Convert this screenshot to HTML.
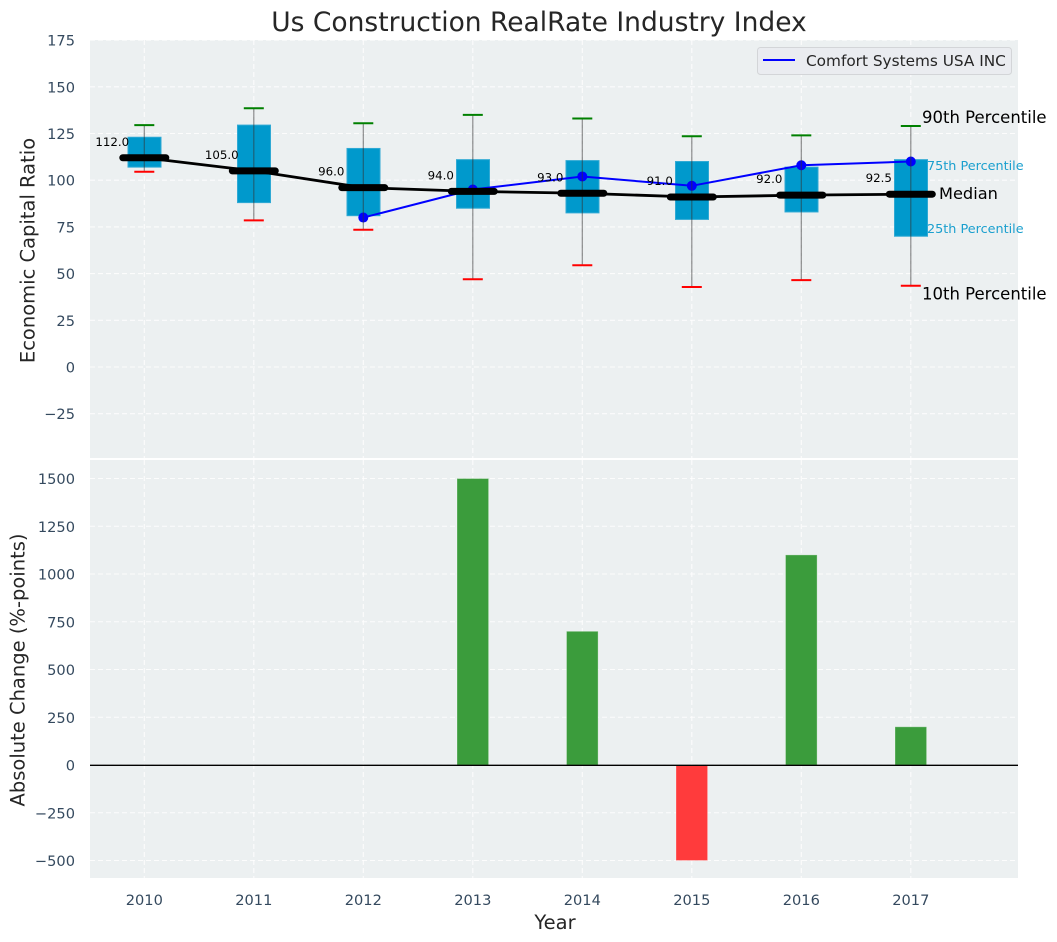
<!DOCTYPE html>
<html lang="en">
<head>
<meta charset="utf-8">
<title>Us Construction RealRate Industry Index</title>
<style>
html,body{margin:0;padding:0;background:#fff;width:1057px;height:942px;overflow:hidden}
svg{display:block;font-family:"DejaVu Sans","Liberation Sans",sans-serif}
</style>
</head>
<body>
<svg id="chart" xmlns="http://www.w3.org/2000/svg" width="1057" height="942" viewBox="0 0 1057 942">
  <rect x="0" y="0" width="1057" height="942" fill="#ffffff"/>
  <rect x="90" y="40" width="928" height="418" fill="#ecf0f1"/>
  <rect x="90" y="460" width="928" height="418" fill="#ecf0f1"/>
  <g id="grid"></g>
  <g id="top-marks"></g>
  <g id="bottom-marks"></g>
  <g id="ticks"></g>
  <text x="539" y="31" text-anchor="middle" font-size="26.5" fill="#262626">Us Construction RealRate Industry Index</text>
  <text transform="translate(34.5,250.5) rotate(-90)" text-anchor="middle" font-size="19.5" fill="#262626">Economic Capital Ratio</text>
  <text transform="translate(24.5,670) rotate(-90)" text-anchor="middle" font-size="19.5" fill="#262626">Absolute Change (%-points)</text>
  <text x="555" y="929" text-anchor="middle" font-size="19.5" fill="#262626">Year</text>
  <g>
    <rect x="757.5" y="47.5" width="254" height="27" rx="3" fill="#eaecf0" stroke="#d3d5d8" stroke-width="1"/>
    <line x1="763" y1="60" x2="795" y2="60" stroke="#0000ff" stroke-width="2"/>
    <text x="806" y="66" font-size="15.3" fill="#262626">Comfort Systems USA INC</text>
  </g>
  <g>
    <text x="922" y="123" font-size="16.5" fill="#000000">90th Percentile</text>
    <text x="927" y="170" font-size="12.8" fill="#1a9fce">75th Percentile</text>
    <text x="939" y="199" font-size="16.2" fill="#000000">Median</text>
    <text x="927" y="233" font-size="12.8" fill="#1a9fce">25th Percentile</text>
    <text x="922" y="299.5" font-size="16.5" fill="#000000">10th Percentile</text>
  </g>
</svg>
<script>
const years = [2010, 2011, 2012, 2013, 2014, 2015, 2016, 2017];
const p90 = [129.5, 138.5, 130.5, 135, 133, 123.5, 124, 129];
const p75 = [123, 129.5, 117, 111, 110.5, 110, 107, 111];
const medians = [112, 105, 96, 94, 93, 91, 92, 92.5];
const p25 = [107, 88, 81, 85, 82.5, 79, 83, 70];
const p10 = [104.5, 78.5, 73.5, 47, 54.5, 42.8, 46.5, 43.5];
const companyValues = [null, null, 80, 95, 102, 97, 108, 110];
const changes = [null, null, null, 1500, 700, -500, 1100, 200];
const topTicks = [175, 150, 125, 100, 75, 50, 25, 0, -25];
const bottomTicks = [1500, 1250, 1000, 750, 500, 250, 0, -250, -500];

const NS = 'http://www.w3.org/2000/svg';
function xScale(year) { return 144.3 + (year - 2010) * 109.5; }
function yTop(v) { return 367 - v * 1.868; }
function yBottom(v) { return 765 - v * 0.191; }
function mk(tag, attrs, parent) {
  const el = document.createElementNS(NS, tag);
  Object.keys(attrs).forEach(function (k) { el.setAttribute(k, attrs[k]); });
  parent.appendChild(el);
  return el;
}
const grid = document.getElementById('grid');
const topMarks = document.getElementById('top-marks');
const bottomMarks = document.getElementById('bottom-marks');
const tickGroup = document.getElementById('ticks');
const gridStyle = { stroke: '#ffffff', 'stroke-width': 1.1, 'stroke-dasharray': '5 3', opacity: 0.85 };
const tickColor = '#34495e';

topTicks.forEach(function (t) {
  const y = yTop(t);
  const line = mk('line', Object.assign({ x1: 90, x2: 1018, y1: y, y2: y }, gridStyle), grid);
  
  
  const label = mk('text', { x: 75, y: y + 5.5, 'text-anchor': 'end', 'font-size': 14.6, fill: tickColor }, tickGroup);
  
  
  label.textContent = String(t).replace('-', '\u2212');
});
bottomTicks.forEach(function (t) {
  const y = yBottom(t);
  const line = mk('line', Object.assign({ x1: 90, x2: 1018, y1: y, y2: y }, gridStyle), grid);
  
  
  const label = mk('text', { x: 75, y: y + 5.5, 'text-anchor': 'end', 'font-size': 14.6, fill: tickColor }, tickGroup);
  
  
  label.textContent = String(t).replace('-', '\u2212');
});
years.forEach(function (yr) {
  const x = xScale(yr);
  const l1 = mk('line', Object.assign({ x1: x, x2: x, y1: 40, y2: 458 }, gridStyle), grid);
  
  
  const l2 = mk('line', Object.assign({ x1: x, x2: x, y1: 460, y2: 878 }, gridStyle), grid);
  
  
  const label = mk('text', { x: x, y: 905, 'text-anchor': 'middle', 'font-size': 14.6, fill: tickColor }, tickGroup);
  
  
  label.textContent = String(yr);
});

/* boxes */
years.forEach(function (yr, i) {
  const x = xScale(yr);
  const box = mk('rect', { x: x - 16.3, y: yTop(p75[i]), width: 33, height: yTop(p25[i]) - yTop(p75[i]), fill: '#0099cc', stroke: '#2fa9d4', 'stroke-width': 1 }, topMarks);
  
  
});

/* median trend line */
const medianLine = mk('polyline', { points: years.map(function (yr, i) { return xScale(yr) + ',' + yTop(medians[i]); }).join(' '), fill: 'none', stroke: '#000000', 'stroke-width': 2.8 }, topMarks);



/* company series */
const companyPts = [];
years.forEach(function (yr, i) {
  if (companyValues[i] !== null) companyPts.push(xScale(yr) + ',' + yTop(companyValues[i]));
});
const companyLine = mk('polyline', { points: companyPts.join(' '), fill: 'none', stroke: '#0000ff', 'stroke-width': 2 }, topMarks);


years.forEach(function (yr, i) {
  if (companyValues[i] === null) return;
  const dot = mk('circle', { cx: xScale(yr), cy: yTop(companyValues[i]), r: 5, fill: '#0000ff' }, topMarks);
  
  
});

/* whiskers, caps, medians, value labels */
years.forEach(function (yr, i) {
  const x = xScale(yr);
  const whisker = mk('line', { x1: x, x2: x, y1: yTop(p90[i]), y2: yTop(p10[i]), stroke: '#333333', 'stroke-width': 1.2, opacity: 0.55 }, topMarks);
  
  
  const capHi = mk('line', { x1: x - 10, x2: x + 10, y1: yTop(p90[i]), y2: yTop(p90[i]), stroke: '#008000', 'stroke-width': 2 }, topMarks);
  
  
  const capLo = mk('line', { x1: x - 10, x2: x + 10, y1: yTop(p10[i]), y2: yTop(p10[i]), stroke: '#ff0000', 'stroke-width': 2 }, topMarks);
  
  
  const med = mk('line', { x1: x - 21.5, x2: x + 21.5, y1: yTop(medians[i]), y2: yTop(medians[i]), stroke: '#000000', 'stroke-width': 7, 'stroke-linecap': 'round' }, topMarks);
  
  
  const val = mk('text', { x: x - 32, y: yTop(medians[i]) - 12, 'text-anchor': 'middle', 'font-size': 11.8, fill: '#000000' }, topMarks);
  
  
  val.textContent = medians[i].toFixed(1);
});

/* bars */
years.forEach(function (yr, i) {
  if (changes[i] === null) return;
  const x = xScale(yr);
  const v = changes[i];
  const top = v >= 0 ? yBottom(v) : yBottom(0);
  const bar = mk('rect', { x: x - 15.8, y: top, width: 31.6, height: Math.abs(yBottom(v) - yBottom(0)), fill: v >= 0 ? '#3b9c3c' : '#ff3b3c', stroke: '#ffffff', 'stroke-opacity': 0.3, 'stroke-width': 1 }, bottomMarks);
  
  
});
const zero = mk('line', { x1: 90, x2: 1018, y1: yBottom(0) + 0.3, y2: yBottom(0) + 0.3, stroke: '#000000', 'stroke-width': 1.4 }, bottomMarks);


</script>
</body>
</html>
